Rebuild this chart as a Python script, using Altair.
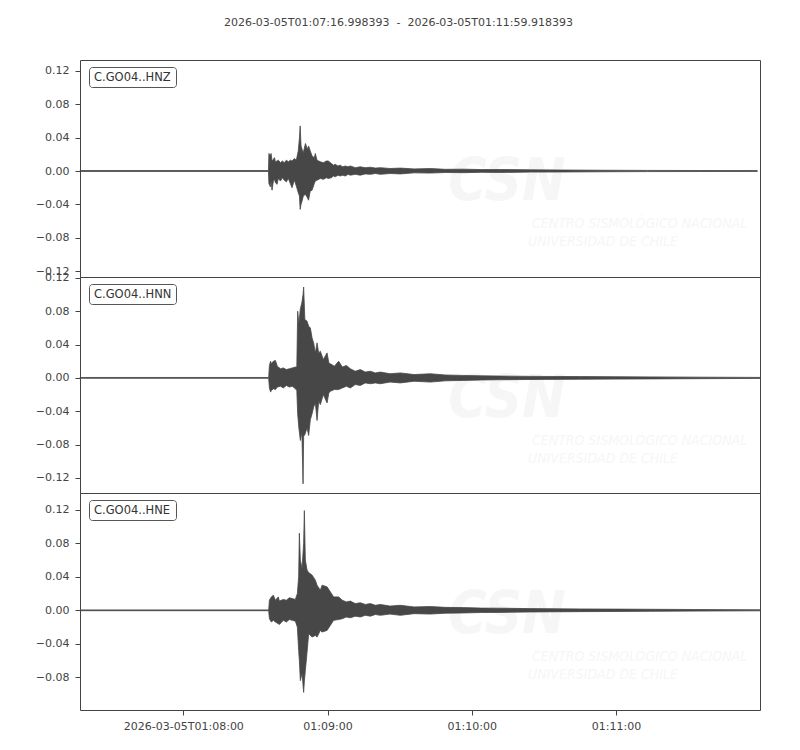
import altair as alt
import pandas as pd

# ---------------- data (seconds relative to 2026-03-05T01:08:00) ----------------
title_text = "2026-03-05T01:07:16.998393\u00a0\u00a0-\u00a0\u00a02026-03-05T01:11:59.918393"
t_start = -43.0016
t_end = 239.918

channels = ["C.GO04..HNZ", "C.GO04..HNN", "C.GO04..HNE"]

# HNZ envelope (upper / lower)
t_hnz = [-43.0, 35.4, 35.6, 36.2, 36.5, 36.9, 37.45, 37.9, 38.3, 39.0, 39.5, 40.4, 41.2,
         42.0, 42.85, 43.7, 44.5, 45.2, 46.2, 47.0, 47.8, 48.3, 48.6, 48.97, 49.5, 49.9,
         50.8, 51.6, 52.1, 52.8, 53.55, 54.5, 54.9, 55.6, 57.0, 58.3, 59.5, 60.3, 61.6,
         62.4, 63.2, 64.3, 65.3, 66.2, 67.4, 68.5, 69.5, 71.5, 73.6, 75.7, 77.8, 79.9,
         82.0, 86.0, 90.3, 96.0, 102.8, 109.0, 116.5, 124.0, 131.9, 144.4, 156.9, 175.0,
         193.1, 215.0, 238.8]
up_hnz = [0.0005, 0.0005, 0.021, 0.018, 0.021, 0.012, 0.014, 0.016, 0.011, 0.012, 0.013,
          0.010, 0.012, 0.010, 0.013, 0.011, 0.013, 0.012, 0.015, 0.013, 0.024, 0.040,
          0.054, 0.030, 0.025, 0.022, 0.033, 0.026, 0.030, 0.024, 0.018, 0.016, 0.021,
          0.013, 0.011, 0.010, 0.012, 0.012, 0.009, 0.007, 0.008, 0.006, 0.007, 0.005,
          0.006, 0.005, 0.006, 0.004, 0.005, 0.004, 0.0045, 0.0035, 0.004, 0.003, 0.0035,
          0.0025, 0.003, 0.002, 0.0022, 0.0017, 0.0018, 0.0014, 0.0012, 0.0009, 0.0007,
          0.0006, 0.0005]
lo_hnz = [-0.0005, -0.0005, -0.015, -0.019, -0.012, -0.023, -0.012, -0.010, -0.014,
          -0.016, -0.009, -0.012, -0.008, -0.011, -0.013, -0.009, -0.015, -0.020, -0.011,
          -0.018, -0.026, -0.030, -0.046, -0.040, -0.035, -0.030, -0.028, -0.032, -0.035,
          -0.024, -0.023, -0.015, -0.012, -0.011, -0.009, -0.010, -0.008, -0.009, -0.008,
          -0.006, -0.007, -0.005, -0.006, -0.005, -0.006, -0.004, -0.005, -0.004, -0.005,
          -0.0035, -0.004, -0.003, -0.004, -0.003, -0.0035, -0.0022, -0.0025, -0.0018,
          -0.002, -0.0016, -0.0018, -0.0013, -0.0012, -0.0009, -0.0007, -0.0006, -0.0005]

# HNN envelope
t_hnn = [-43.0, 35.5, 35.8, 36.3, 36.6, 37.45, 38.3, 39.1, 40.4, 41.6, 42.85, 44.1, 45.35,
         46.6, 47.2, 47.56, 48.06, 48.68, 49.3, 49.8, 50.05, 50.55, 51.47, 52.13, 52.84,
         53.55, 54.21, 54.92, 55.63, 56.29, 57.0, 58.25, 59.79, 60.54, 61.16, 62.82,
         64.61, 66.15, 67.82, 69.48, 71.5, 73.64, 75.7, 77.8, 79.9, 81.96, 86.0, 90.28,
         96.0, 102.77, 109.0, 116.5, 124.0, 131.9, 148.0, 165.2, 180.0, 194.3, 215.0,
         239.9]
up_hnn = [0.0005, 0.0005, 0.015, 0.020, 0.017, 0.020, 0.021, 0.014, 0.011, 0.012, 0.010,
          0.011, 0.012, 0.013, 0.013, 0.080, 0.065, 0.083, 0.090, 0.100, 0.109, 0.070,
          0.068, 0.062, 0.060, 0.048, 0.042, 0.030, 0.042, 0.030, 0.032, 0.022, 0.030,
          0.018, 0.017, 0.014, 0.020, 0.013, 0.015, 0.011, 0.008, 0.010, 0.007, 0.008,
          0.006, 0.007, 0.005, 0.006, 0.004, 0.005, 0.0035, 0.003, 0.0025, 0.0022, 0.0018,
          0.0016, 0.0014, 0.0012, 0.0009, 0.0006]
lo_hnn = [-0.0005, -0.0005, -0.012, -0.017, -0.015, -0.013, -0.014, -0.011, -0.010,
          -0.012, -0.009, -0.011, -0.010, -0.013, -0.015, -0.043, -0.060, -0.075, -0.065,
          -0.127, -0.070, -0.068, -0.060, -0.069, -0.050, -0.043, -0.035, -0.030, -0.051,
          -0.028, -0.032, -0.020, -0.030, -0.018, -0.016, -0.014, -0.014, -0.012, -0.010,
          -0.012, -0.008, -0.009, -0.006, -0.007, -0.006, -0.007, -0.005, -0.006, -0.004,
          -0.005, -0.0035, -0.003, -0.0025, -0.0022, -0.0018, -0.0016, -0.0014, -0.0012,
          -0.0009, -0.0006]

# HNE envelope
t_hne = [-43.0, 35.5, 35.8, 36.6, 37.45, 38.3, 39.5, 39.94, 41.6, 42.85, 44.1, 45.35, 46.6,
         47.43, 47.97, 48.26, 48.68, 49.39, 50.05, 50.34, 50.76, 51.47, 52.13, 53.55,
         54.92, 55.63, 57.0, 57.71, 59.79, 62.53, 64.61, 66.15, 67.8, 69.48, 71.5, 73.64,
         75.7, 77.8, 79.9, 81.96, 86.0, 90.28, 96.0, 102.77, 109.0, 116.5, 124.0, 131.9,
         144.4, 165.2, 180.0, 194.3, 215.0, 239.9]
up_hne = [0.0005, 0.0005, 0.012, 0.016, 0.018, 0.012, 0.016, 0.011, 0.013, 0.012, 0.015,
          0.014, 0.013, 0.020, 0.040, 0.092, 0.060, 0.050, 0.080, 0.119, 0.060, 0.048,
          0.045, 0.042, 0.036, 0.030, 0.024, 0.030, 0.028, 0.016, 0.016, 0.012, 0.010,
          0.011, 0.008, 0.009, 0.007, 0.008, 0.006, 0.007, 0.005, 0.006, 0.004, 0.0045,
          0.0035, 0.0032, 0.0026, 0.0025, 0.002, 0.0016, 0.0014, 0.0012, 0.0009, 0.0006]
lo_hne = [-0.0005, -0.0005, -0.010, -0.014, -0.012, -0.014, -0.016, -0.017, -0.012,
          -0.014, -0.011, -0.012, -0.013, -0.020, -0.048, -0.060, -0.084, -0.075, -0.098,
          -0.085, -0.072, -0.050, -0.028, -0.032, -0.030, -0.032, -0.024, -0.026, -0.024,
          -0.012, -0.011, -0.010, -0.008, -0.009, -0.007, -0.008, -0.006, -0.007, -0.005,
          -0.006, -0.0045, -0.006, -0.004, -0.0045, -0.0035, -0.0032, -0.0026, -0.0025,
          -0.002, -0.0016, -0.0014, -0.0012, -0.0009, -0.0006]

y_domains = [[-0.127, 0.133], [-0.138, 0.121], [-0.119, 0.140]]
y_ticks = [[-0.12, -0.08, -0.04, 0.0, 0.04, 0.08, 0.12],
           [-0.12, -0.08, -0.04, 0.0, 0.04, 0.08, 0.12],
           [-0.08, -0.04, 0.0, 0.04, 0.08, 0.12]]

x_tick_vals = [0, 60, 120, 180]
x_tick_labels = ["2026-03-05T01:08:00", "01:09:00", "01:10:00", "01:11:00"]

watermark_big = "CSN"
watermark_lines = ["CENTRO SISMOLÓGICO NACIONAL", "UNIVERSIDAD DE CHILE"]

# ---------------- styling ----------------
TRACE = "#474747"
TXT = "#444444"
FONT = "DejaVu Sans"
WM_FONT = "DejaVu Sans Condensed, Liberation Sans, sans-serif"
WM_COLOR = "#f6f6f6"
W = 680
heights = [217, 216, 217]

label_expr = " : ".join(
    f"datum.value == {v} ? '{l}'" for v, l in zip(x_tick_vals[:-1], x_tick_labels[:-1])
) + f" : '{x_tick_labels[-1]}'"

series = [(t_hnz, up_hnz, lo_hnz), (t_hnn, up_hnn, lo_hnn), (t_hne, up_hne, lo_hne)]

panels = []
for i, (tt, up, lo) in enumerate(series):
    df = pd.DataFrame({"t": tt, "up": up, "lo": lo})
    is_bottom = i == 2
    if is_bottom:
        xaxis = alt.Axis(values=x_tick_vals, labelExpr=label_expr, title=None, grid=False,
                         domain=False, tickSize=5, labelPadding=5, labelFontSize=11,
                         labelFont=FONT, labelColor=TXT, tickColor=TXT, labelFlush=False,
                         labelOverlap=False)
    else:
        xaxis = None
    xenc = alt.X("t:Q", scale=alt.Scale(domain=[t_start, t_end], nice=False, zero=False),
                 axis=xaxis)
    yenc = alt.Y("up:Q", scale=alt.Scale(domain=y_domains[i], nice=False, zero=False),
                 axis=alt.Axis(values=y_ticks[i], format=".2f", title=None, grid=False,
                               domain=False, tickSize=5, labelPadding=6, labelFontSize=11,
                               labelFont=FONT, labelColor=TXT, tickColor=TXT,
                               labelFlush=False, labelOverlap=False))

    lab = pd.DataFrame({"label": [channels[i]]})
    wm = pd.DataFrame({"big": [watermark_big], "l1": [watermark_lines[0]],
                       "l2": [watermark_lines[1]]})

    wm_big = alt.Chart(wm).mark_text(font=WM_FONT, fontSize=58,
                                     fontWeight="bold", fontStyle="italic",
                                     color=WM_COLOR, align="center",
                                     baseline="middle").encode(
        text="big:N", x=alt.value(427), y=alt.value(123))
    wm_l1 = alt.Chart(wm).mark_text(font=WM_FONT, fontSize=14,
                                    fontStyle="italic", color=WM_COLOR, align="left",
                                    baseline="middle").encode(
        text="l1:N", x=alt.value(452), y=alt.value(164))
    wm_l2 = alt.Chart(wm).mark_text(font=WM_FONT, fontSize=14,
                                    fontStyle="italic", color=WM_COLOR, align="left",
                                    baseline="middle").encode(
        text="l2:N", x=alt.value(448), y=alt.value(182))

    area = alt.Chart(df).mark_area(color=TRACE, stroke=TRACE, strokeWidth=0.8,
                                   interpolate="linear").encode(
        x=xenc, y=yenc, y2="lo:Q")

    box = alt.Chart(lab).mark_rect(fill="white", stroke="#555555", strokeWidth=1,
                                   cornerRadius=3).encode(
        x=alt.value(9.5), x2=alt.value(96.5), y=alt.value(7.5), y2=alt.value(27.5))
    txt = alt.Chart(lab).mark_text(font=FONT, fontSize=11.5, color="#333333",
                                   align="left", baseline="middle").encode(
        text="label:N", x=alt.value(14), y=alt.value(17.5))

    panel = alt.layer(wm_big, wm_l1, wm_l2, area, box, txt).properties(
        width=W, height=heights[i])
    panels.append(panel)

chart = alt.vconcat(*panels, spacing=0, bounds="flush").properties(
    title=alt.TitleParams(title_text, fontSize=11, font=FONT, color=TXT,
                          fontWeight="normal", anchor="middle", frame="bounds",
                          offset=32),
    padding={"left": 26, "top": 8, "right": 5, "bottom": 5},
    background="white",
).configure_view(stroke="#444444", strokeWidth=1)

chart.save("out.html", embed_options={"renderer": "svg", "actions": False})
